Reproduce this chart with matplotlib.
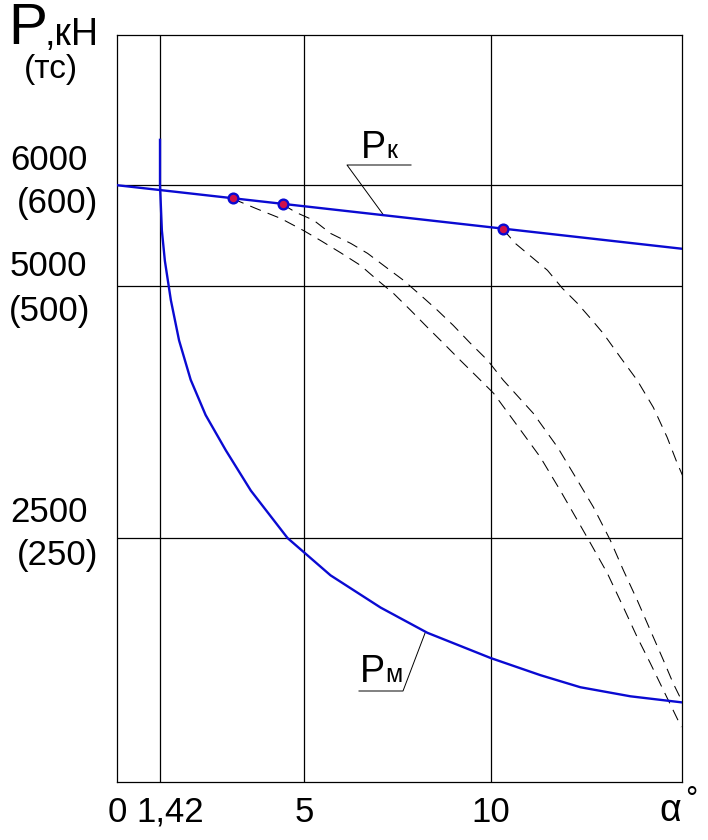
import matplotlib
matplotlib.use("Agg")
import matplotlib.pyplot as plt
import numpy as np

plt.rcParams['font.family'] = ['Liberation Sans', 'DejaVu Sans']

# ---------------- data ----------------
# P_k : straight line (kN) vs alpha (deg)
pk_alpha = [0.0, 15.1]
pk_force = [6000, 5370]

# P_m : curve (kN) vs alpha (deg)
pm_alpha = [1.15, 1.15, 1.2, 1.28, 1.44, 1.66, 1.97, 2.37, 2.91, 3.58, 4.56,
            5.71, 7.05, 8.3, 9.99, 11.32, 12.39, 13.73, 15.1]
pm_force = [6450, 6000, 5550, 5250, 4860, 4460, 4070, 3720, 3370, 2970, 2500,
            2130, 1810, 1560, 1310, 1140, 1020, 930, 870]

# marked points on P_k
mark_alpha = [3.10, 4.43, 10.33]

# dashed curves starting at the marked points
d1_alpha = [3.10, 3.71, 4.38, 4.99, 5.45, 5.98, 6.51, 6.97, 7.39, 7.85, 8.30,
            8.73, 9.18, 9.64, 10.07, 10.60, 11.32, 11.85, 12.31, 12.66, 13.11,
            13.54, 13.91, 14.26, 14.61, 14.87, 15.09]
d1_force = [5865, 5770, 5670, 5550, 5450, 5330, 5205, 5057, 4928, 4760, 4590,
            4432, 4263, 4095, 3936, 3668, 3302, 2974, 2677, 2449, 2152,
            1814, 1517, 1259, 991, 793, 625]

d2_alpha = [4.43, 4.78, 5.26, 5.71, 6.25, 6.70, 7.23, 7.66, 8.12, 8.57, 8.99,
            9.45, 9.91, 10.33, 11.13, 11.78, 12.31, 12.74, 13.19, 13.54, 13.91,
            14.26, 14.61, 14.87, 15.12]
d2_force = [5810, 5731, 5652, 5522, 5423, 5324, 5176, 5057, 4908, 4759, 4610,
            4432, 4263, 4065, 3738, 3401, 3074, 2806, 2479, 2181, 1884,
            1586, 1289, 1061, 872]

d3_alpha = [10.33, 10.65, 10.97, 11.51, 11.91, 12.31, 12.66, 13.0, 13.46,
            13.91, 14.34, 14.71, 14.98, 15.12]
d3_force = [5560, 5423, 5324, 5156, 4977, 4829, 4680, 4531, 4293, 4065,
            3797, 3500, 3242, 3123]

# grid / tick values
x_grid = [1.15, 5, 10]
x_tick_vals = [0, 1.42, 5, 10]
x_tick_labels = ['0', '1,42', '5', '10']
y_grid = [2500, 5000, 6000]
y_kn_labels = ['2500', '5000', '6000']
y_tc_labels = ['(250)', '(500)', '(600)']

# ---------------- figure ----------------
W, H = 708, 840
fig = plt.figure(figsize=(W / 100, H / 100), dpi=100)
ax = fig.add_axes([117 / W, 58 / H, 564.7 / W, 747 / H])
ax.set_xlim(0, 15.1)
ax.set_ylim(80, 7490)
ax.set_xticks([])
ax.set_yticks([])
for s in ax.spines.values():
    s.set_linewidth(0.9)
    s.set_color('black')

for xv in x_grid:
    ax.axvline(xv, color='black', lw=0.9, zorder=1)
for yv in y_grid:
    ax.axhline(yv, color='black', lw=0.9, zorder=1)

blue = '#0a0ad2'
dash = (0, (11, 7))
for xa, ya in [(d1_alpha, d1_force), (d2_alpha, d2_force), (d3_alpha, d3_force)]:
    ax.plot(xa, ya, color='black', lw=0.75, linestyle=dash, zorder=2)

ax.plot(pk_alpha, pk_force, color=blue, lw=1.7, zorder=3)
ax.plot(pm_alpha, pm_force, color=blue, lw=1.7, zorder=3)

mark_force = np.interp(mark_alpha, pk_alpha, pk_force)
ax.plot(mark_alpha, mark_force, 'o', ms=7, mfc='#d0104a', mec=blue,
        mew=1.7, zorder=4, clip_on=False)

def fp(x, y):
    return x / W, 1 - y / H

fs_tick = 25
# x labels
xt = ax.get_xaxis_transform()
for v, lab in zip(x_tick_vals, x_tick_labels):
    ax.text(v, -(812 - 782) / 747, lab, transform=xt,
            ha='center', va='center', fontsize=fs_tick)
fig.text(*fp(670, 811), 'α', ha='center', va='center', fontsize=27)
fig.text(*fp(691, 800), '°', ha='center', va='center', fontsize=22)

# y labels (kN above line, tc below line)
kn_pos = {'2500': (10, 512), '5000': (10, 267), '6000': (10, 161)}
tc_pos = {'(250)': (17, 556), '(500)': (9, 311), '(600)': (17, 203)}
for lab in y_kn_labels:
    fig.text(*fp(*kn_pos[lab]), lab, ha='left', va='center', fontsize=fs_tick)
for lab in y_tc_labels:
    fig.text(*fp(*tc_pos[lab]), lab, ha='left', va='center', fontsize=fs_tick)

# axis title
fig.text(*fp(8, 44), 'P', ha='left', va='baseline', fontsize=42)
fig.text(*fp(45, 45), ',кН', ha='left', va='baseline', fontsize=27)
fig.text(*fp(24, 78), '(тс)', ha='left', va='baseline', fontsize=24)

# P_k label with leader
fig.text(*fp(361, 158), 'P', ha='left', va='baseline', fontsize=27)
fig.text(*fp(386, 158), 'к', ha='left', va='baseline', fontsize=18)
lx = 7.13
ly = np.interp(lx, pk_alpha, pk_force)
inv = ax.transData.inverted()
p_corner = inv.transform((347, H - 165))
p_end = inv.transform((411, H - 165))
ax.plot([p_end[0], p_corner[0], lx], [p_end[1], p_corner[1], ly],
        color='black', lw=0.7, clip_on=False, zorder=2)

# P_m label with leader
fig.text(*fp(360, 682), 'P', ha='left', va='baseline', fontsize=27)
fig.text(*fp(385, 682), 'м', ha='left', va='baseline', fontsize=18)
mx = 8.25
my = np.interp(mx, pm_alpha, pm_force)
q_start = inv.transform((359, H - 691))
q_corner = inv.transform((403, H - 691))
ax.plot([q_start[0], q_corner[0], mx], [q_start[1], q_corner[1], my],
        color='black', lw=0.7, clip_on=False, zorder=2)

fig.savefig('out.png', dpi=100, facecolor='white')
